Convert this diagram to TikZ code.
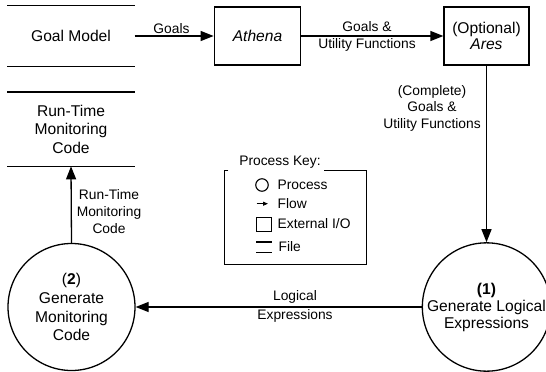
\documentclass[tikz,border=0pt]{standalone}
\usepackage{fontspec}
\setmainfont{Liberation Sans}
\usetikzlibrary{arrows.meta}

\begin{document}
\begin{tikzpicture}[x=1pt, y=-1pt,
  every path/.style={line width=1.3pt},
  flow/.style={-{Triangle[length=13pt,width=10pt]}},
  bigtxt/.style={font=\fontsize{15.6}{18.5}\selectfont},
  lbl/.style={font=\fontsize{13.8}{16.8}\selectfont, align=center, inner sep=0pt},
  keytxt/.style={font=\fontsize{13.8}{16}\selectfont, anchor=west, inner sep=0pt},
  procnode/.style={circle, draw, inner sep=0pt, align=center, bigtxt},
  extbox/.style={rectangle, draw, inner sep=0pt, minimum height=58pt, align=center, bigtxt},
  filenode/.style={rectangle, inner sep=0pt, minimum width=126pt, align=center, bigtxt}
]
\useasboundingbox (0,0) rectangle (546,372);

% data stores (files) drawn as two horizontal rules
\node[filenode, minimum height=59.5pt] (gm) at (71,36) {Goal Model};
\draw (gm.north west) -- (gm.north east);
\draw (gm.south west) -- (gm.south east);

\node[filenode, minimum height=73pt, font=\fontsize{15.6}{18.6}\selectfont] (rtm) at (71,129.2) {Run-Time\\Monitoring\\Code};
\draw (rtm.north west) -- (rtm.north east);
\draw (rtm.south west) -- (rtm.south east);

% external tools
\node[extbox, minimum width=86.5pt] (ath) at (257.5,36) {\itshape Athena};
\node[extbox, minimum width=85pt, font=\fontsize{15.6}{16.5}\selectfont] (ares) at (486.5,36) {(Optional)\\\itshape Ares};

% processes
\node[procnode, minimum size=124pt, font=\fontsize{15.6}{17}\selectfont] (c1) at (486.5,307) {\textbf{(1)}\\Generate Logical\\Expressions};
\node[procnode, minimum size=127pt, font=\fontsize{15.6}{18.9}\selectfont] (c2) at (71.5,307) {(\textbf{2})\\Generate\\Monitoring\\Code};

% flows
\draw[flow] (gm.east) -- (ath.west);
\draw[flow] (ath.east) -- (ares.west);
\draw[flow] (ares.south) -- (c1.north);
\draw[flow] (c1.west) -- (c2.east);
\draw[flow] (c2.north) -- (rtm.south);

% flow labels
\node[lbl] (lgoals) at (171.5,28.5) {Goals};
\node[lbl] (lguf) at (367,36.5) {Goals \&\\Utility Functions};
\node[lbl] (lcguf) at (432,108.3) {(Complete)\\Goals \&\\Utility Functions};
\node[lbl, font=\fontsize{13.8}{18.6}\selectfont] (llog) at (295,306.5) {Logical\\Expressions};
\node[lbl] (lrtm) at (109,211.7) {Run-Time\\Monitoring\\Code};

% process key
\node[minimum width=141pt, minimum height=93pt, inner sep=0pt] (kf) at (295.5,217.5) {};
\draw ([xshift=4pt]kf.north west) -- (kf.north west) -- (kf.south west)
  -- (kf.south east) -- (kf.north east) -- ([xshift=-43pt]kf.north east);
\node[lbl] (ktitle) at (280,162) {Process Key:};

\node[circle, draw, minimum size=12.5pt, inner sep=0pt, line width=1.1pt] (kc) at (262,185) {};
\node[keytxt] (kct) at (277,185) {Process};
\coordinate (kfa) at (256.7,203.7);
\coordinate (kfb) at (268,203.7);
\draw[-{Triangle[length=5pt,width=4pt]}, line width=1pt] (kfa) -- (kfb);
\node[keytxt] (kft) at (277,203.7) {Flow};
\node[rectangle, draw, minimum size=14.5pt, inner sep=0pt, line width=1.1pt] (ks) at (264,224.5) {};
\node[keytxt] (kst) at (277,224) {External I/O};
\node[minimum width=14.5pt, minimum height=9.3pt, inner sep=0pt] (kfile) at (264,247.4) {};
\draw (kfile.north west) -- (kfile.north east);
\draw (kfile.south west) -- (kfile.south east);
\node[keytxt] (kfilet) at (278,247) {File};
\end{tikzpicture}
\end{document}
